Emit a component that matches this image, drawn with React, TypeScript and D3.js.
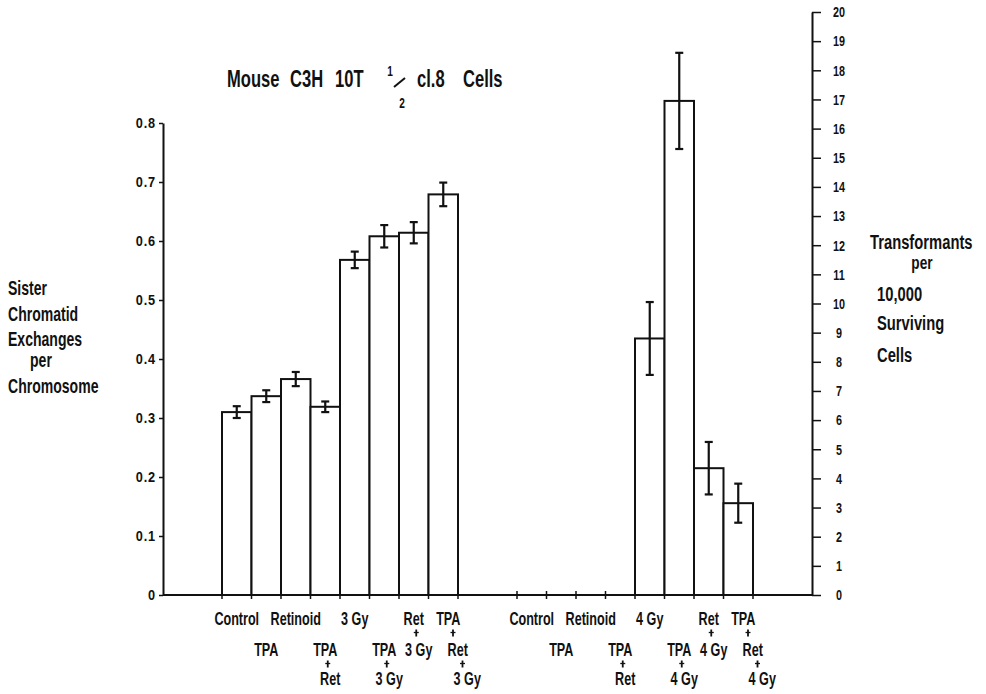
import { useEffect, useRef } from 'react';
import * as d3 from 'd3';

// SCE per chromosome (left axis), 3 Gy series
const leftKeys = ['Control', 'TPA', 'Retinoid', 'TPA+Ret', '3 Gy', 'TPA+3 Gy', 'Ret+3 Gy', 'TPA+Ret+3 Gy'];
const leftLabels = [['Control'], ['TPA'], ['Retinoid'], ['TPA', 'Ret'], ['3 Gy'], ['TPA', '3 Gy'], ['Ret', '3 Gy'], ['TPA', 'Ret', '3 Gy']];
const leftValues = [0.31, 0.337, 0.366, 0.319, 0.568, 0.608, 0.614, 0.679];
const leftErrors = [0.01, 0.01, 0.012, 0.009, 0.014, 0.019, 0.018, 0.02];

// transformants per 10,000 surviving cells (right axis), 4 Gy series
const rightKeys = ['Control', 'TPA', 'Retinoid', 'TPA+Ret', '4 Gy', 'TPA+4 Gy', 'Ret+4 Gy', 'TPA+Ret+4 Gy'];
const rightLabels = [['Control'], ['TPA'], ['Retinoid'], ['TPA', 'Ret'], ['4 Gy'], ['TPA', '4 Gy'], ['Ret', '4 Gy'], ['TPA', 'Ret', '4 Gy']];
const rightValues = [0, 0, 0, 0, 8.8, 16.95, 4.35, 3.15];
const rightErrors = [0, 0, 0, 0, 1.25, 1.65, 0.9, 0.67];

// which label row each category starts on
const labelStartRow = [0, 1, 0, 1, 0, 1, 0, 0];

const leftTicks = [0, 0.1, 0.2, 0.3, 0.4, 0.5, 0.6, 0.7, 0.8];
const rightTicks = d3.range(0, 21);

const leftTitle = ['Sister', 'Chromatid', 'Exchanges', 'per', 'Chromosome'];
const rightTitle = ['Transformants', 'per', '10,000', 'Surviving', 'Cells'];

const FONT = "'Liberation Sans', Arial, sans-serif";
const SX = 0.72; // horizontal squeeze to mimic the condensed typeface

export default function App() {
  const svgRef = useRef<SVGSVGElement>(null);

  useEffect(() => {
    const svg = d3.select(svgRef.current);
    svg.selectAll('*').remove();

    const base = 595;
    const slots = [
      'p0', 'p1',
      ...leftKeys.map(k => 'L:' + k),
      'g0', 'g1',
      ...rightKeys.map(k => 'R:' + k),
      'p2', 'p3',
    ];
    const x = d3.scaleBand().domain(slots).range([163, 812]).padding(0);
    const bw = x.bandwidth();
    const yL = d3.scaleLinear().domain([0, 0.8]).range([base, 123]);
    const yR = d3.scaleLinear().domain([0, 20]).range([base, 12]);

    const txt = (str, tx, ty, size, anchor = 'start', sx = SX) =>
      svg.append('text')
        .attr('transform', `translate(${tx},${ty}) scale(${sx},1)`)
        .attr('text-anchor', anchor)
        .attr('font-family', FONT)
        .attr('font-weight', 'bold')
        .attr('font-size', size)
        .attr('fill', '#111')
        .text(str);

    const plus = (cx, cy) => {
      const p = svg.append('g').attr('stroke', '#111');
      p.append('line').attr('x1', cx).attr('x2', cx).attr('y1', cy - 3.5).attr('y2', cy + 3.5).attr('stroke-width', 1.8);
      p.append('line').attr('x1', cx - 2.5).attr('x2', cx + 2.5).attr('y1', cy - 0.5).attr('y2', cy - 0.5).attr('stroke-width', 1.3);
    };

    // baseline with edge ticks
    svg.append('line')
      .attr('x1', 163).attr('x2', 812)
      .attr('y1', base).attr('y2', base)
      .attr('stroke', '#111').attr('stroke-width', 2);

    const groups = [
      { pre: 'L:', keys: leftKeys, labels: leftLabels, values: leftValues, errors: leftErrors, y: yL },
      { pre: 'R:', keys: rightKeys, labels: rightLabels, values: rightValues, errors: rightErrors, y: yR },
    ];

    const rowY = [625, 656, 685];

    groups.forEach(gr => {
      const edges = new Set<number>();
      gr.keys.forEach(k => {
        edges.add(x(gr.pre + k));
        edges.add(x(gr.pre + k) + bw);
      });
      svg.append('g').selectAll('line')
        .data([...edges])
        .enter()
        .append('line')
        .attr('x1', d => d).attr('x2', d => d)
        .attr('y1', base - 4).attr('y2', base + 4)
        .attr('stroke', '#111').attr('stroke-width', 1.5);

      // bars
      gr.keys.forEach((k, i) => {
        const v = gr.values[i];
        if (v <= 0) return;
        const x0 = x(gr.pre + k);
        svg.append('rect')
          .attr('x', x0).attr('y', gr.y(v))
          .attr('width', bw).attr('height', base - gr.y(v))
          .attr('fill', 'white')
          .attr('stroke', '#111').attr('stroke-width', 2);
      });

      // error bars
      gr.keys.forEach((k, i) => {
        const v = gr.values[i];
        const e = gr.errors[i];
        if (v <= 0) return;
        const cx = x(gr.pre + k) + bw / 2;
        const top = gr.y(v + e);
        const bot = gr.y(v - e);
        const eb = svg.append('g').attr('stroke', '#111').attr('stroke-width', 2.2);
        eb.append('line').attr('x1', cx).attr('x2', cx).attr('y1', top).attr('y2', bot);
        eb.append('line').attr('x1', cx - 4).attr('x2', cx + 4).attr('y1', top).attr('y2', top);
        eb.append('line').attr('x1', cx - 4).attr('x2', cx + 4).attr('y1', bot).attr('y2', bot);
      });

      // category labels
      gr.labels.forEach((lines, i) => {
        const cx = x(gr.pre + gr.keys[i]) + bw / 2;
        const r0 = labelStartRow[i];
        const dx = j => (lines.length === 3 ? 5 + j * 9.5 : j * 5);
        lines.forEach((ln, j) => {
          txt(ln, cx + dx(j), rowY[r0 + j], 18, 'middle', 0.7);
          if (j < lines.length - 1) {
            plus(cx + (dx(j) + dx(j + 1)) / 2, rowY[r0 + j] + 8);
          }
        });
      });
    });

    // left axis
    const axL = svg.append('g')
      .attr('transform', 'translate(163,0)')
      .call(d3.axisLeft(yL)
        .tickValues(leftTicks)
        .tickSize(4)
        .tickSizeOuter(0)
        .tickPadding(3)
        .tickFormat(d => (d === 0 ? '0' : d3.format('.1f')(d))));
    axL.select('.domain').attr('stroke', '#111').attr('stroke-width', 2);
    axL.selectAll('.tick line').attr('stroke', '#111').attr('stroke-width', 1.5);
    axL.selectAll('.tick text')
      .attr('transform', 'scale(0.85,1)')
      .attr('x', -7 / 0.85)
      .attr('font-family', FONT).attr('font-weight', 'bold')
      .attr('font-size', 15).attr('letter-spacing', 1).attr('fill', '#111');

    // right axis
    const axR = svg.append('g')
      .attr('transform', 'translate(812,0)')
      .call(d3.axisRight(yR)
        .tickValues(rightTicks)
        .tickSize(9)
        .tickSizeOuter(0));
    axR.select('.domain').attr('stroke', '#111').attr('stroke-width', 2);
    axR.selectAll('.tick line').attr('stroke', '#111').attr('stroke-width', 1.5);
    axR.selectAll('.tick text')
      .attr('transform', `scale(${SX},1)`)
      .attr('x', 27 / SX)
      .attr('text-anchor', 'middle')
      .attr('font-family', FONT).attr('font-weight', 'bold')
      .attr('font-size', 15).attr('fill', '#111');

    // title
    txt('Mouse', 227, 87, 23);
    txt('C3H', 290, 87, 23);
    txt('10T', 335, 87, 23);
    txt('1', 390, 76, 14, 'middle');
    svg.append('line')
      .attr('x1', 394).attr('y1', 87).attr('x2', 405).attr('y2', 78)
      .attr('stroke', '#111').attr('stroke-width', 2);
    txt('2', 402, 108, 14, 'middle');
    txt('cl.8', 417, 87, 23);
    txt('Cells', 463, 87, 23);

    // left axis title
    const lY = [295, 321, 346, 367, 393];
    leftTitle.forEach((s, i) => txt(s, s === 'per' ? 30 : 8, lY[i], 19.5));

    // right axis title
    const rY = [249, 269, 301, 330, 362];
    rightTitle.forEach((s, i) => {
      if (s === 'per') txt(s, 922, rY[i], 19, 'middle');
      else txt(s, i === 0 ? 870 : 877, rY[i], 20.5);
    });
  }, []);

  return (
    <div style={{ position: 'absolute', left: 0, top: 0 }}>
      <svg ref={svgRef} width={986} height={694} style={{ background: 'white', display: 'block' }} />
    </div>
  );
}
